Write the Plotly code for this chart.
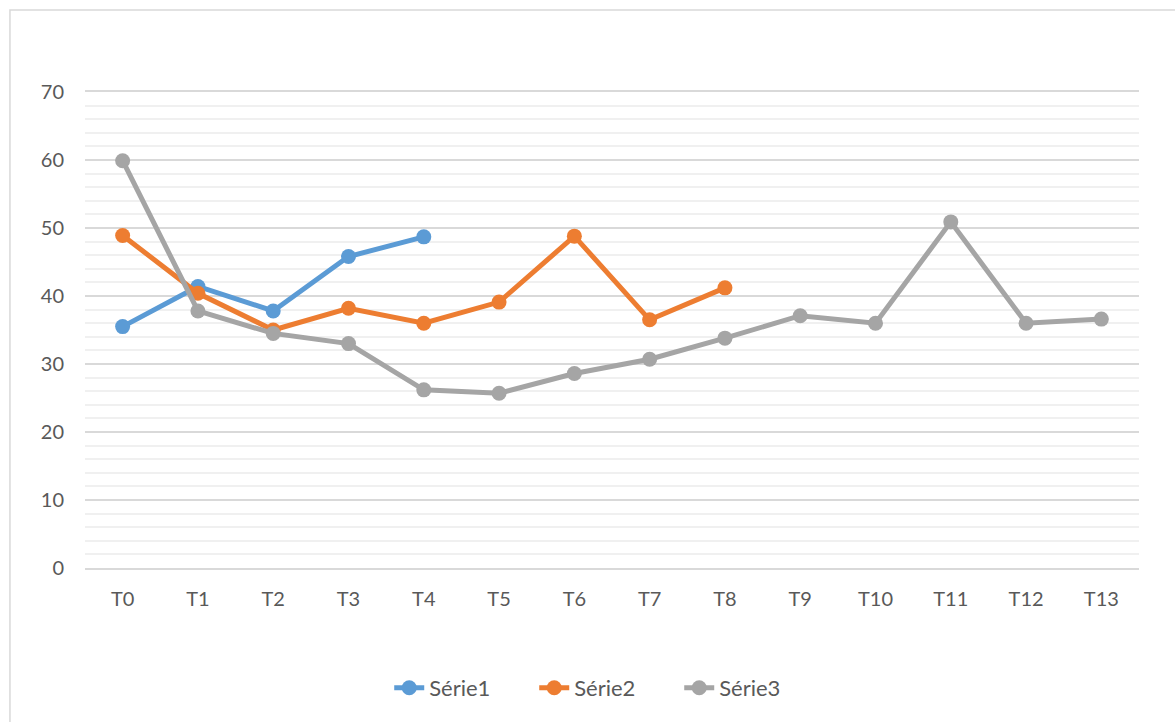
import plotly.graph_objects as go

categories = ["T0", "T1", "T2", "T3", "T4", "T5", "T6", "T7", "T8", "T9", "T10", "T11", "T12", "T13"]
serie1 = [35.5, 41.4, 37.8, 45.8, 48.7]
serie2 = [48.9, 40.4, 35.0, 38.2, 36.0, 39.1, 48.8, 36.5, 41.2]
serie3 = [59.9, 37.8, 34.5, 33.0, 26.2, 25.7, 28.6, 30.7, 33.8, 37.1, 36.0, 50.9, 36.0, 36.6]

series = [
    ("Série1", serie1, "#5B9BD5"),
    ("Série2", serie2, "#ED7D31"),
    ("Série3", serie3, "#A5A5A5"),
]

fig = go.Figure()
for name, vals, color in series:
    fig.add_trace(go.Scatter(
        x=categories[:len(vals)], y=vals, name=name, mode="lines+markers",
        line=dict(color=color, width=5),
        marker=dict(color=color, size=15),
    ))

font = dict(family="Lato, Open Sans, sans-serif", size=20, color="#595959")
legend_font = dict(family="Lato, Open Sans, sans-serif", size=22, color="#595959")

fig.update_layout(
    width=1175, height=722,
    margin=dict(l=85, r=36, t=92, b=154),
    paper_bgcolor="white", plot_bgcolor="white",
    font=font,
    showlegend=True,
    legend=dict(orientation="h", x=0.495, xanchor="center", y=-0.252, yanchor="middle",
                font=legend_font, traceorder="normal",
                entrywidth=100, entrywidthmode="pixels"),
    xaxis=dict(type="category", categoryorder="array", categoryarray=categories,
               range=[-0.5, 13.5], showgrid=False, zeroline=False,
               showline=True, mirror=True, linecolor="#D9D9D9", linewidth=1.6,
               ticks="", ticklabelstandoff=12, tickfont=font),
    yaxis=dict(range=[0, 70], dtick=10, tick0=0, showgrid=True, gridcolor="#D9D9D9",
               gridwidth=1.6, zeroline=True, zerolinecolor="#D9D9D9", zerolinewidth=1.6,
               showline=False, ticks="", ticklabelstandoff=20, tickfont=font,
               minor=dict(dtick=2, tick0=0, showgrid=True, gridcolor="#F0F0F0", gridwidth=1.6)),
    shapes=[dict(type="rect", xref="paper", yref="paper",
                 x0=-0.0712, x1=1.2, y0=-0.6, y1=1.1723,
                 line=dict(color="#D9D9D9", width=1.5), layer="below")],
)

fig.write_html("out.html")
